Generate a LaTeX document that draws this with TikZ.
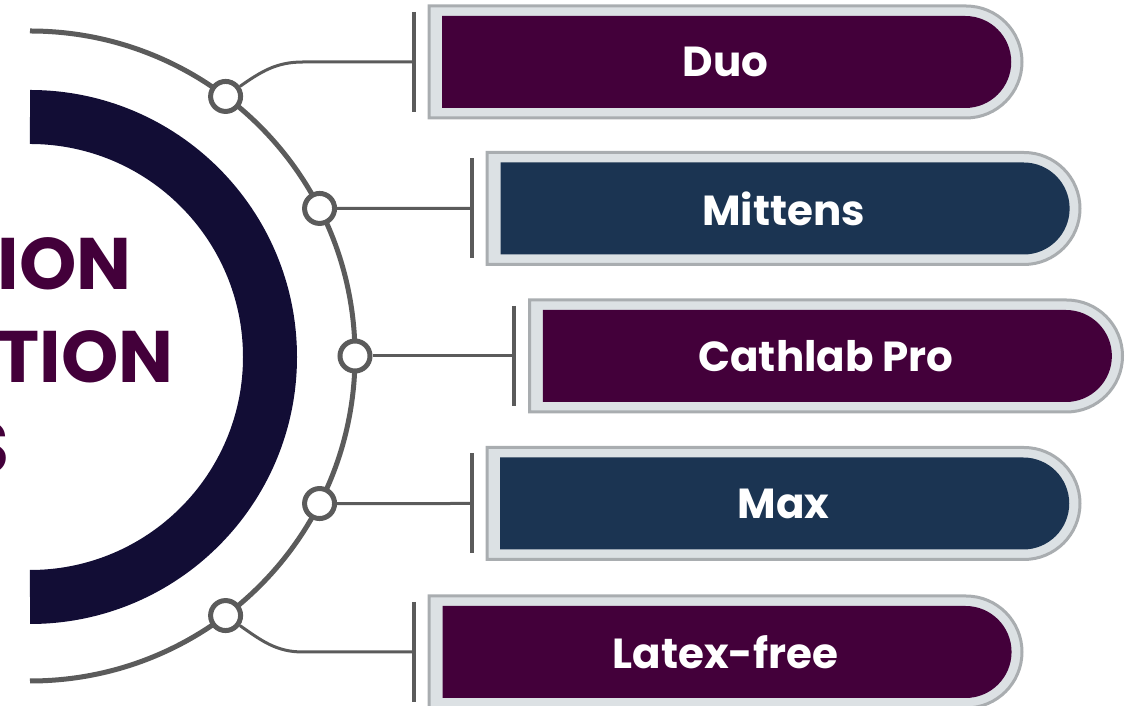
\documentclass[tikz,border=0pt]{standalone}
\usepackage{fontspec}
\setmainfont{Poppins}
\usepackage{tikz}
\usepackage{xcolor}
\definecolor{vizPlum}{HTML}{43003A}
\definecolor{vizNavy}{HTML}{1B3452}
\definecolor{vizInk}{HTML}{120D35}
\definecolor{vizLine}{HTML}{5B5B5B}
\definecolor{vizFrame}{HTML}{DCE1E4}
\definecolor{vizFrameEdge}{HTML}{A9ADB0}
\usetikzlibrary{shapes.misc}
\tikzset{
  itemframe/.style={rounded rectangle, rounded rectangle west arc=none, minimum width=593pt, minimum height=112pt, inner sep=0pt, fill=vizFrame, draw=vizFrameEdge, line width=3pt},
  itempill/.style={rounded rectangle, rounded rectangle west arc=none, minimum width=569pt, minimum height=92pt, inner sep=0pt, text=white, font=\bfseries\fontsize{42}{42}\selectfont},
  arcdot/.style={circle, minimum size=30pt, inner sep=0pt, fill=white, draw=vizLine, line width=5pt},
  tickbar/.style={draw=vizLine, line width=4pt},
  linkline/.style={draw=vizLine, line width=3pt},
  titletext/.style={anchor=base east, inner sep=0pt, text=vizPlum, font=\bfseries\fontsize{73}{73}\selectfont}
}

\begin{document}
\begin{tikzpicture}[x=1pt,y=1pt]
  \clip (0,0) rectangle (1144,706);
  \draw[vizInk, line width=54pt] (30,589) arc (90:-90:240);
  \draw[vizLine, line width=5pt] (30,675) arc (90:-90:325);
  \node[titletext] (tl1) at (132,416) {ION};
  \node[titletext] (tl2) at (174,323) {TION};
  \node[titletext] (tl3) at (10,232) {S};

  \coordinate (hub) at (30,350);
  \node[arcdot] (c1) at ([shift={(53:325)}]hub) {};
  \node[arcdot] (c2) at ([shift={(27:325)}]hub) {};
  \node[arcdot] (c3) at ([shift={(0:325)}]hub) {};
  \node[arcdot] (c4) at ([shift={(-27:325)}]hub) {};
  \node[arcdot] (c5) at ([shift={(-53:325)}]hub) {};

  \node[itemframe] (f1) at (725.5,644) {};
  \node[itempill, fill=vizPlum] (duo) at (f1) {Duo};
  \node[itemframe] (f2) at (783.5,497.5) {};
  \node[itempill, fill=vizNavy] (mittens) at (f2) {Mittens};
  \node[itemframe] (f3) at (826,350) {};
  \node[itempill, fill=vizPlum] (cathlab) at (f3) {Cathlab Pro};
  \node[itemframe] (f4) at (783.5,202.5) {};
  \node[itempill, fill=vizNavy] (max) at (f4) {Max};
  \node[itemframe] (f5) at (725.5,54) {};
  \node[itempill, fill=vizPlum] (latex) at (f5) {Latex-free};

  \coordinate (k1) at ([xshift=-14pt]f1.west);
  \coordinate (k2) at ([xshift=-14pt]f2.west);
  \coordinate (k3) at ([xshift=-14pt]f3.west);
  \coordinate (k4) at ([xshift=-14pt]f4.west);
  \coordinate (k5) at ([xshift=-14pt]f5.west);
  \draw[tickbar] ([yshift=50pt]k1) -- ([yshift=-50pt]k1);
  \draw[tickbar] ([yshift=50pt]k2) -- ([yshift=-50pt]k2);
  \draw[tickbar] ([yshift=50pt]k3) -- ([yshift=-50pt]k3);
  \draw[tickbar] ([yshift=50pt]k4) -- ([yshift=-50pt]k4);
  \draw[tickbar] ([yshift=50pt]k5) -- ([yshift=-50pt]k5);

  \coordinate (b1) at (303,644);
  \coordinate (b5) at (303,54);
  \draw[linkline] (c1) to[out=35,in=180] (b1) -- (k1);
  \draw[linkline] (c2) -- (k2);
  \draw[linkline] (c3) -- (k3);
  \draw[linkline] (c4) -- (k4);
  \draw[linkline] (c5) to[out=-35,in=180] (b5) -- (k5);
\end{tikzpicture}
\end{document}
